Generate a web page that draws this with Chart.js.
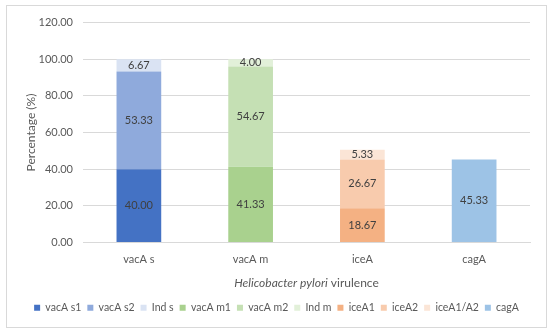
<!DOCTYPE html>
<html>
<head>
<meta charset="utf-8">
<script src="https://cdn.jsdelivr.net/npm/chart.js@4/dist/chart.umd.min.js"></script>
<style>
  body { margin: 0; background: #fff; }
  #box { position: absolute; left: 6px; top: 5px; width: 539px; height: 321px; border: 1px solid #d9d9d9; }
</style>
</head>
<body>
<div id="box"><canvas id="myChart"></canvas></div>
<script>
// DATA
const categories = ['vacA s', 'vacA m', 'iceA', 'cagA'];
const seriesNames = ['vacA s1', 'vacA s2', 'Ind s', 'vacA m1', 'vacA m2', 'Ind m', 'iceA1', 'iceA2', 'iceA1/A2', 'cagA'];
const vacAs1 = [40.00, null, null, null];
const vacAs2 = [53.33, null, null, null];
const indS = [6.67, null, null, null];
const vacAm1 = [null, 41.33, null, null];
const vacAm2 = [null, 54.67, null, null];
const indM = [null, 4.00, null, null];
const iceA1 = [null, null, 18.67, null];
const iceA2 = [null, null, 26.67, null];
const iceA1A2 = [null, null, 5.33, null];
const cagA = [null, null, null, 45.33];
const yTicks = [0, 20, 40, 60, 80, 100, 120];

const seriesData = [vacAs1, vacAs2, indS, vacAm1, vacAm2, indM, iceA1, iceA2, iceA1A2, cagA];
const colors = ['#4472c4', '#8faadc', '#dae3f3', '#a9d18e', '#c5e0b4', '#e2f0d9', '#f4b183', '#f8cbad', '#fbe5d6', '#9dc3e6'];

const FONT = 'Lato, "Open Sans", sans-serif';
const GREY = '#595959';

// value labels in the middle of each segment
const barLabels = {
  id: 'barLabels',
  afterDatasetsDraw(chart) {
    const ctx = chart.ctx;
    ctx.save();
    ctx.font = '11px ' + FONT;
    ctx.fillStyle = '#404040';
    ctx.textAlign = 'center';
    ctx.textBaseline = 'middle';
    chart.data.datasets.forEach((ds, i) => {
      chart.getDatasetMeta(i).data.forEach((bar, j) => {
        const v = ds.data[j];
        if (v === null) return;
        ctx.fillText(v.toFixed(2), bar.x, (bar.y + bar.base) / 2);
      });
    });
    ctx.restore();
  }
};

// x axis title with italic species name
const xTitle = {
  id: 'xTitle',
  afterDraw(chart) {
    const ctx = chart.ctx;
    const a = chart.chartArea;
    const part1 = 'Helicobacter pylori';
    const part2 = ' virulence';
    ctx.save();
    ctx.fillStyle = GREY;
    ctx.textBaseline = 'middle';
    ctx.font = 'italic 12px ' + FONT;
    const w1 = ctx.measureText(part1).width;
    ctx.font = '12px ' + FONT;
    const w2 = ctx.measureText(part2).width;
    const x0 = (a.left + a.right) / 2 - (w1 + w2) / 2;
    const y = a.bottom + 41;
    ctx.textAlign = 'left';
    ctx.font = 'italic 12px ' + FONT;
    ctx.fillText(part1, x0, y);
    ctx.font = '12px ' + FONT;
    ctx.fillText(part2, x0 + w1, y);
    ctx.restore();
  }
};

const datasets = seriesData.map((d, i) => ({
  label: seriesNames[i],
  data: d,
  backgroundColor: colors[i],
  stack: 'one',
  barPercentage: 0.4,
  categoryPercentage: 1.0
}));

new Chart(document.getElementById('myChart'), {
  type: 'bar',
  data: { labels: categories, datasets: datasets },
  options: {
    responsive: true,
    maintainAspectRatio: false,
    animation: false,
    layout: { padding: { top: 11, right: 16, bottom: 4, left: 16 } },
    plugins: {
      tooltip: { enabled: false },
      legend: {
        position: 'bottom',
        labels: {
          boxWidth: 6,
          boxHeight: 6,
          padding: 6,
          color: GREY,
          font: { family: FONT, size: 10.5 }
        }
      }
    },
    scales: {
      x: {
        stacked: true,
        grid: { display: false, drawTicks: false },
        border: { color: '#d9d9d9' },
        ticks: { color: GREY, font: { family: FONT, size: 11 }, padding: 10 },
        afterFit: s => { s.height = 54; }
      },
      y: {
        stacked: true,
        min: 0,
        max: 120,
        afterBuildTicks: s => { s.ticks = yTicks.map(v => ({ value: v })); },
        grid: { color: '#d9d9d9', drawTicks: false },
        border: { display: false },
        ticks: {
          color: GREY,
          padding: 10,
          font: { family: FONT, size: 11 },
          callback: v => Number(v).toFixed(2)
        },
        title: {
          display: true,
          text: 'Percentage (%)',
          color: GREY,
          font: { family: FONT, size: 12 },
          padding: { top: 1, bottom: 0 }
        },
        afterFit: s => { s.width = 60; }
      }
    }
  },
  plugins: [barLabels, xTitle]
});
</script>
</body>
</html>
